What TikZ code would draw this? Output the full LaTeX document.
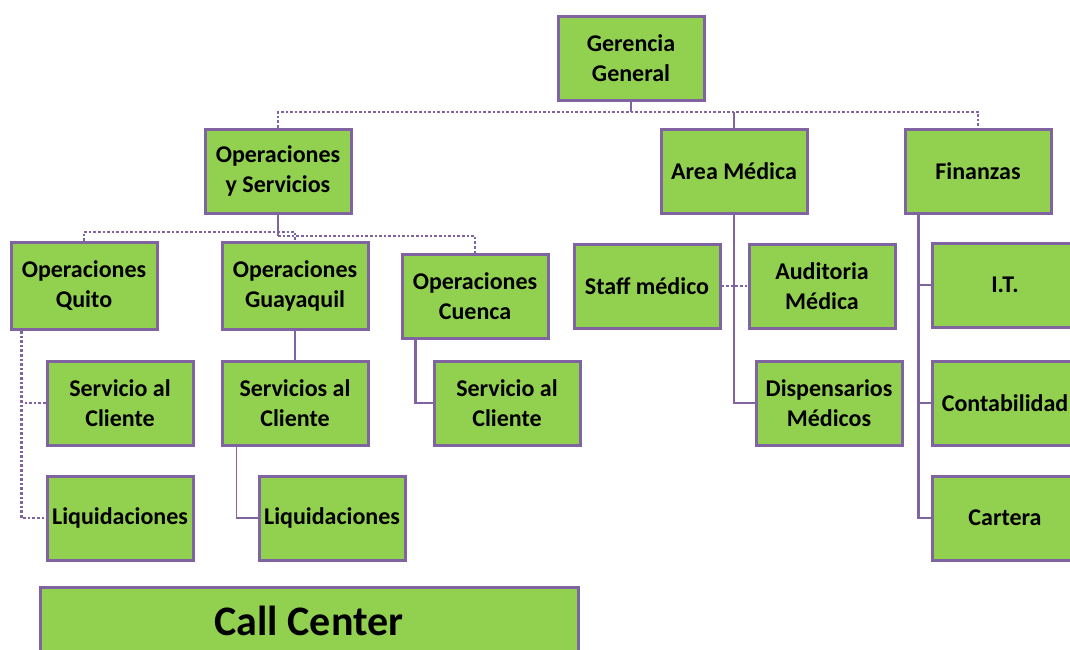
\documentclass[tikz,border=0pt]{standalone}
\usepackage{fontspec}
\setmainfont{Carlito}
\usepackage{tikz}
\usetikzlibrary{positioning}
\definecolor{orggreen}{HTML}{92D050}
\definecolor{orgpurple}{HTML}{8064A2}

\begin{document}
\begin{tikzpicture}[x=0.5pt,y=-0.5pt,
		unit/.style={draw=orgpurple,fill=orggreen,line width=1.5pt,inner sep=0pt,
			align=center,minimum width=73pt,minimum height=42pt,
			font=\fontsize{12}{15}\selectfont\bfseries},
		link/.style={draw=orgpurple,line width=1.3pt},
		dotlink/.style={link,densely dotted}]

		\useasboundingbox (0,0) rectangle (1070,649);
		\clip (0,0) rectangle (1070,649);

		% top level
		\node [unit] (gerencia) at (631,58) {Gerencia\\General};
		\node [unit] (opserv) at (278,171) {Operaciones\\y Servicios};
		\node [unit] (medica) at (734,171) {Area Médica};
		\node [unit] (finanzas) at (978,171) {Finanzas};

		% operaciones
		\node [unit,minimum height=43.5pt] (quito) at (84,286) {Operaciones\\Quito};
		\node [unit,minimum height=43.5pt] (guayaquil) at (295,286) {Operaciones\\Guayaquil};
		\node [unit] (cuenca) at (475,296) {Operaciones\\Cuenca};
		\node [unit] (quitocli) at (120,403) {Servicio al\\Cliente};
		\node [unit] (quitoliq) at (120,518) {Liquidaciones};
		\node [unit] (gyecli) at (295,403) {Servicios al\\Cliente};
		\node [unit] (gyeliq) at (332,518) {Liquidaciones};
		\node [unit] (cuecli) at (507,403) {Servicio al\\Cliente};
		\node [unit,minimum width=269pt,minimum height=34pt,
			font=\fontsize{21}{24}\selectfont\bfseries] (callcenter) at (309,621) {Call Center};

		% area medica
		\node [unit] (staff) at (647,286) {Staff médico};
		\node [unit] (auditoria) at (822,286) {Auditoria\\Médica};
		\node [unit] (dispensarios) at (829,403) {Dispensarios\\Médicos};

		% finanzas
		\node [unit] (it) at (1005,285) {I.T.};
		\node [unit] (contabilidad) at (1005,403) {Contabilidad};
		\node [unit] (cartera) at (1005,518) {Cartera};

		% connectors
		\coordinate (topbus) at (631,112);
		\coordinate (opbus) at (278,232);
		\coordinate (cuebus) at (278,236);

		\draw [link] (gerencia.south) -- (topbus);
		\draw [dotlink] (opserv.north) |- (topbus) -| (finanzas.north);
		\draw [link] (medica.north) -- (medica.north |- topbus);

		\draw [link] (opserv.south) -- (cuebus);
		\draw [dotlink] (quito.north) |- (opbus) -| (guayaquil.north);
		\draw [dotlink] (cuebus) -| (cuenca.north);

		\draw [dotlink] ([xshift=6pt]quito.south west) |- (quitoliq.west);
		\draw [dotlink] (quitocli.west) -- ++(-11.5pt,0);
		\draw [link] (guayaquil.south) -- (gyecli.north);
		\draw [link,line width=0.8pt] ([xshift=8pt]gyecli.south west) |- (gyeliq.west);
		\draw [link] ([xshift=7.5pt]cuenca.south west) |- (cuecli.west);

		\draw [link] (medica.south) |- (dispensarios.west);
		\draw [dotlink] (staff) -- (auditoria);

		\draw [link] ([xshift=7.5pt]finanzas.south west) |- (cartera.west);
		\draw [link] (it.west) -- ++(-6pt,0);
		\draw [link] (contabilidad.west) -- ++(-6pt,0);

\end{tikzpicture}
\end{document}
